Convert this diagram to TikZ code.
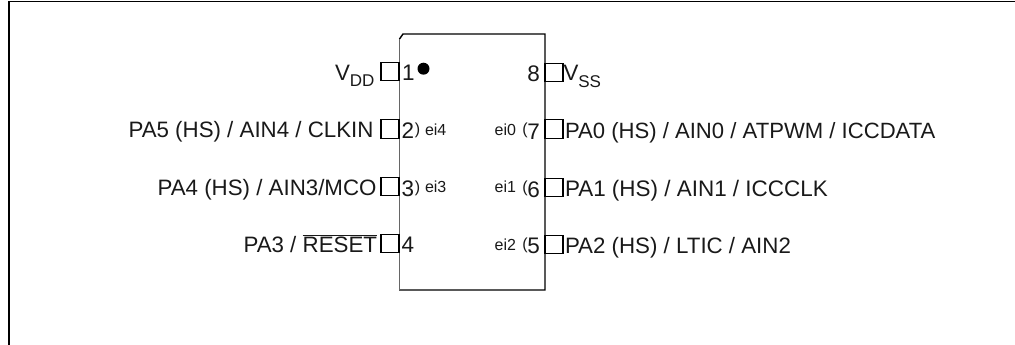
\documentclass[tikz,border=0pt]{standalone}
\usepackage{fontspec}
\setmainfont{Liberation Sans}
\newcommand{\subtxt}[2]{\raisebox{#1}{\fontsize{17}{18}\selectfont #2}}
\tikzset{
  x=1pt,y=-1pt,
  pinbox/.style={draw=black,line width=1.4pt,fill=white,minimum width=18pt,minimum height=18.5pt,inner sep=0pt,outer sep=0pt},
  lbl/.style={inner sep=0pt,outer sep=0pt,text=black!90,font=\fontsize{22.3}{24}\selectfont},
  num/.style={inner sep=0pt,outer sep=0pt,text=black!90,font=\fontsize{22.5}{24}\selectfont},
  small/.style={inner sep=0pt,outer sep=0pt,text=black!90,font=\fontsize{16}{18}\selectfont},
  paren/.style={inner sep=0pt,outer sep=0pt,text=black!90,font=\fontsize{16}{18}\selectfont}
}
\begin{document}
\begin{tikzpicture}
\useasboundingbox (0,0) rectangle (1015,345);
\draw[line width=1.3pt] (9,345) -- (9,1.5) -- (1015,1.5);
% package
\draw[line width=1.4pt] (399.5,39) -- (403,34) -- (545,34) -- (545,290) -- (399,290);
\draw[line width=1pt,black!60] (399,39) -- (399,290);
% pins
\node[pinbox] (p1) at (390,71.5) {};
\node[pinbox] (p2) at (390,129) {};
\node[pinbox] (p3) at (390,186.5) {};
\node[pinbox] (p4) at (390,243.5) {};
\node[pinbox] (p8) at (554,72.5) {};
\node[pinbox] (p7) at (554,129) {};
\node[pinbox] (p6) at (554,187.5) {};
\node[pinbox] (p5) at (554,244.5) {};
% numbers
\node[num,anchor=base west] (n1) at (402,80.5) {1};
\node[num,anchor=base west] (n2) at (401.5,138) {2};
\node[num,anchor=base west] (n3) at (401.5,196) {3};
\node[num,anchor=base west] (n4) at (401.5,252) {4};
\node[num,anchor=base east] (n8) at (540,81.5) {8};
\node[num,anchor=base east] (n7) at (540,139) {7};
\node[num,anchor=base east] (n6) at (540,197) {6};
\node[num,anchor=base east] (n5) at (540,253) {5};
\node[circle,fill=black,inner sep=0pt,minimum size=12pt] (dot) at (423.5,68.7) {};
% ei labels
\node[paren,anchor=base] (q2) at (417.5,134.5) {)};
\node[paren,anchor=base] (q3) at (417.5,192) {)};
\node[paren,anchor=base] (q7) at (525,134.5) {(};
\node[paren,anchor=base] (q6) at (525,192) {(};
\node[paren,anchor=base] (q5) at (525,249.5) {(};
\node[small,anchor=base west] (e4) at (425,135) {ei4};
\node[small,anchor=base west] (e3) at (425,192.5) {ei3};
\node[small,anchor=base east] (e0) at (516,135) {ei0};
\node[small,anchor=base east] (e1) at (516,192.5) {ei1};
\node[small,anchor=base east] (e2) at (516,250) {ei2};
% left labels
\node[lbl,anchor=base east] (l1) at (374.5,81) {V\subtxt{-6pt}{DD}};
\node[lbl,anchor=base east] (l2) at (373.5,137.5) {PA5 (HS) / AIN4 / CLKIN};
\node[lbl,anchor=base east] (l3) at (376.5,195.5) {PA4 (HS) / AIN3/MCO};
\node[lbl,anchor=base east] (l4) at (377,252.5) {PA3 / $\overline{\mbox{RESET}}$};
% right labels
\node[lbl,anchor=base west] (r8) at (563.5,81) {V\subtxt{-7pt}{SS}};
\node[lbl,anchor=base west,font=\fontsize{22.1}{24}\selectfont] (r7) at (565,138.5) {PA0 (HS) / AIN0 / ATPWM / ICCDATA};
\node[lbl,anchor=base west,font=\fontsize{22.45}{24}\selectfont] (r6) at (565,196.5) {PA1 (HS) / AIN1 / ICCCLK};
\node[lbl,anchor=base west] (r5) at (565,253) {PA2 (HS) / LTIC / AIN2};
\end{tikzpicture}
\end{document}
